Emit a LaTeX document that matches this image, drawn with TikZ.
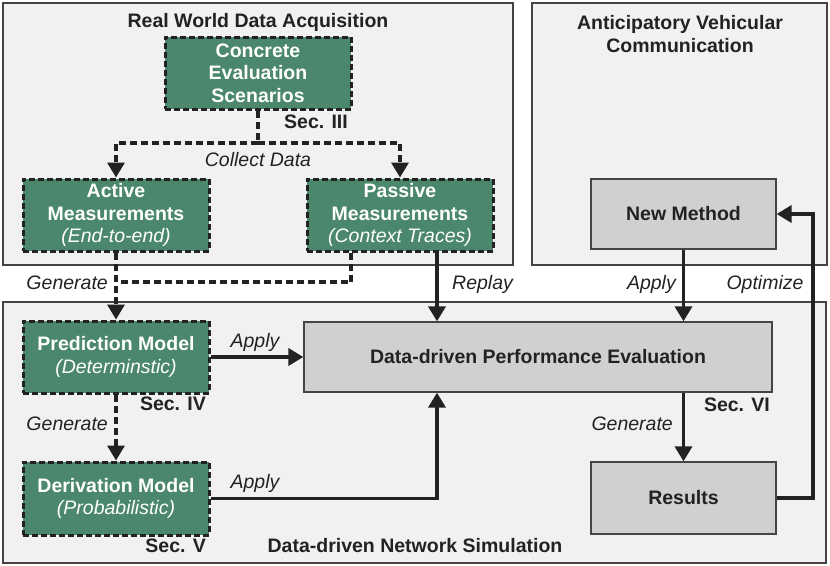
\documentclass[tikz,border=0pt]{standalone}
\usepackage{fontspec}
\setmainfont{Liberation Sans}
\usetikzlibrary{arrows.meta,calc}
\definecolor{grn}{HTML}{4A876C}
\definecolor{gbox}{HTML}{D0D0D0}
\definecolor{bgc}{HTML}{F1F1F1}
\definecolor{ln}{HTML}{222222}
\definecolor{frame}{HTML}{444444}
\begin{document}
\begin{tikzpicture}[x=1pt,y=-1pt,
  greenbox/.style={draw=ln, fill=grn, line width=3pt, dash pattern=on 6pt off 3pt, text=white,
    font=\fontsize{19.5}{22.5}\selectfont\bfseries, align=center, inner sep=0pt},
  graybox/.style={draw=frame, fill=gbox, line width=1.3pt, text=ln,
    font=\fontsize{19.5}{22.5}\selectfont\bfseries, align=center, inner sep=0pt},
  region/.style={draw=frame, fill=bgc, line width=1.5pt},
  arr/.style={-{Triangle[width=17pt,length=15pt]}, line width=3.6pt, draw=ln},
  dsh/.style={line width=3.4pt, dash pattern=on 7pt off 4pt, draw=ln},
  lbl/.style={font=\fontsize{19.5}{22.5}\selectfont\itshape, text=ln, inner sep=0pt},
  hdr/.style={font=\fontsize{19.5}{22.5}\selectfont\bfseries, text=ln, inner sep=0pt, align=center},
  sec/.style={font=\fontsize{19.5}{22.5}\selectfont\bfseries, text=ln, inner sep=0pt, anchor=east}]
\useasboundingbox (0,0) rectangle (830,565);
% regions
\draw[region] (3,3) rectangle (513,265);
\draw[region] (532,3) rectangle (827,265);
\draw[region] (3,302) rectangle (826,563);
\node[hdr] (t1) at (258,22) {Real World Data Acquisition};
\node[hdr] (t2) at (680,34) {Anticipatory Vehicular\\Communication};
\node[hdr] (t3) at (415,546) {Data-driven Network Simulation};
% nodes
\node[greenbox, minimum width=186pt, minimum height=72pt] (conc) at (258,73) {Concrete\\Evaluation\\Scenarios};
\node[greenbox, minimum width=186pt, minimum height=72pt] (act) at (116,215) {Active\\Measurements\\{\mdseries\itshape (End-to-end)}};
\node[greenbox, minimum width=186pt, minimum height=72pt] (pas) at (400,215) {Passive\\Measurements\\{\mdseries\itshape (Context Traces)}};
\node[greenbox, minimum width=186pt, minimum height=72pt] (pred) at (116,357) {Prediction Model\\{\mdseries\itshape (Determinstic)}};
\node[greenbox, minimum width=186pt, minimum height=73pt] (der) at (116,498.5) {Derivation Model\\{\mdseries\itshape (Probabilistic)}};
\node[graybox, minimum width=468pt, minimum height=70pt] (perf) at (538,357) {Data-driven Performance Evaluation};
\node[graybox, minimum width=185pt, minimum height=70pt] (nm) at (683.5,214) {New Method};
\node[graybox, minimum width=185pt, minimum height=72pt] (res) at (683.5,498) {Results};
% section labels
\node[sec] (s3) at (348,122) {Sec. III};
\node[sec] (s4) at (206,404) {Sec. IV};
\node[sec] (s5) at (206,546) {Sec. V};
\node[sec] (s6) at (770,405) {Sec. VI};
% helper coordinates
\coordinate (sp) at (258,143);
\coordinate (px) at (351,0);
\coordinate (rx) at (437,0);
\coordinate (jn) at (117,282);
\coordinate (ox) at (813,0);
% connectors
\draw[dsh] (conc.south) -- (sp);
\draw[dsh,arr,line width=3.4pt] (sp) -| (act.north);
\draw[dsh,arr,line width=3.4pt] (sp) -| (pas.north);
\draw[dsh,arr,line width=3.4pt] (act.south) -- (pred.north);
\draw[dsh] (pas.south -| px) |- (jn);
\draw[arr] (pas.south -| rx) -- (perf.north -| rx);
\draw[dsh,arr,line width=3.4pt] (pred.south) -- (der.north);
\draw[arr] (pred.east) -- (perf.west);
\draw[arr] (der.east) -| (perf.south -| rx);
\draw[arr] (nm.south) -- (perf.north -| nm.south);
\draw[arr] (perf.south -| res.north) -- (res.north);
\draw[arr] (res.east) -- (res.east -| ox) -- (nm.east -| ox) -- (nm.east);
% labels
\node[lbl] (l1) at (258,160) {Collect Data};
\node[lbl, anchor=east] (l2) at (108,283) {Generate};
\node[lbl, anchor=west] (l3) at (452,284) {Replay};
\node[lbl, anchor=east] (l4) at (676,284) {Apply};
\node[lbl] (l5) at (765,284) {Optimize};
\node[lbl] (l6) at (255,342) {Apply};
\node[lbl] (l7) at (255,483) {Apply};
\node[lbl, anchor=east] (l8) at (108,424) {Generate};
\node[lbl, anchor=east] (l9) at (673,424) {Generate};
\end{tikzpicture}
\end{document}
